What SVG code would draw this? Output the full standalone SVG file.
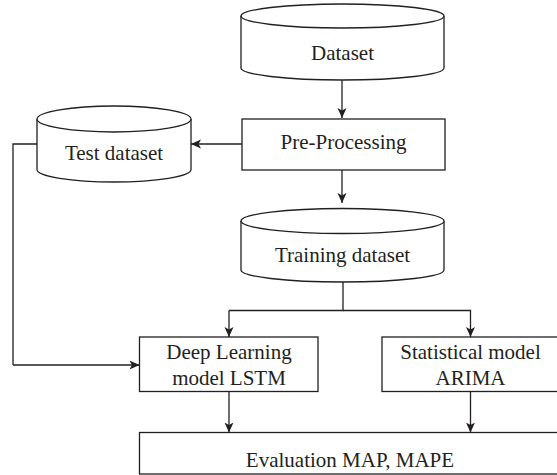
<svg xmlns="http://www.w3.org/2000/svg" width="557" height="475" viewBox="0 0 557 475">
  <defs>
    <marker id="arrow" viewBox="0 0 10 10" refX="10" refY="5" markerWidth="10" markerHeight="10" markerUnits="userSpaceOnUse" orient="auto">
      <path d="M0,0.5 L10,5 L0,9.5 L2.5,5 Z" fill="#231f20"/>
    </marker>
  </defs>
  <style>
    .shape { fill: #ffffff; stroke: #231f20; stroke-width: 1.3; }
    .edge { fill: none; stroke: #231f20; stroke-width: 1.3; marker-end: url(#arrow); }
    .line { fill: none; stroke: #231f20; stroke-width: 1.3; }
    .label { font-family: "Liberation Serif", "Times New Roman", serif; font-size: 21px; fill: #231f20; text-anchor: middle; }
  </style>
  <rect width="557" height="475" fill="#ffffff"/>

  <g id="connectors">
    <path class="edge" d="M342,80 V118"/>
    <path class="edge" d="M342,170 V203"/>
    <path class="edge" d="M242,144 H191"/>
    <path class="line" d="M37,144 H13 V365"/>
    <path class="edge" d="M13,365 H139.5"/>
    <path class="line" d="M343,282 V310.5 H229"/>
    <path class="edge" d="M229,310.5 V337"/>
    <path class="edge" d="M343,310.5 H470.5 V337"/>
    <path class="edge" d="M229,391.5 V432.5"/>
    <path class="edge" d="M470.5,391.5 V432.5"/>
  </g>

  <g id="dataset">
    <path class="shape" d="M241,16 V68 A101.5,12 0 0 0 444,68 V16"/>
    <ellipse class="shape" cx="342.5" cy="16" rx="101.5" ry="12"/>
    <text class="label" x="342.5" y="60">Dataset</text>
  </g>

  <g id="pre-processing">
    <rect class="shape" x="242" y="119" width="203" height="51"/>
    <text class="label" x="343.5" y="149">Pre-Processing</text>
  </g>

  <g id="test-dataset">
    <path class="shape" d="M37,119 V169.5 A77,12.5 0 0 0 191,169.5 V119"/>
    <ellipse class="shape" cx="114" cy="119" rx="77" ry="13"/>
    <text class="label" x="114" y="160">Test dataset</text>
  </g>

  <g id="training-dataset">
    <path class="shape" d="M241,221 V270 A101.5,12 0 0 0 444,270 V221"/>
    <ellipse class="shape" cx="342.5" cy="221" rx="101.5" ry="12.5"/>
    <text class="label" x="342.5" y="262">Training dataset</text>
  </g>

  <g id="lstm">
    <rect class="shape" x="139.5" y="337" width="178.5" height="54.5"/>
    <text class="label" x="229" y="359">Deep Learning</text>
    <text class="label" x="229" y="385">model LSTM</text>
  </g>

  <g id="arima">
    <rect class="shape" x="382" y="337" width="185" height="54.5"/>
    <text class="label" x="470.5" y="359">Statistical model</text>
    <text class="label" x="470.5" y="385">ARIMA</text>
  </g>

  <g id="evaluation">
    <rect class="shape" x="139.5" y="432.5" width="430" height="41.5"/>
    <text class="label" x="350" y="467">Evaluation MAP, MAPE</text>
  </g>
</svg>
